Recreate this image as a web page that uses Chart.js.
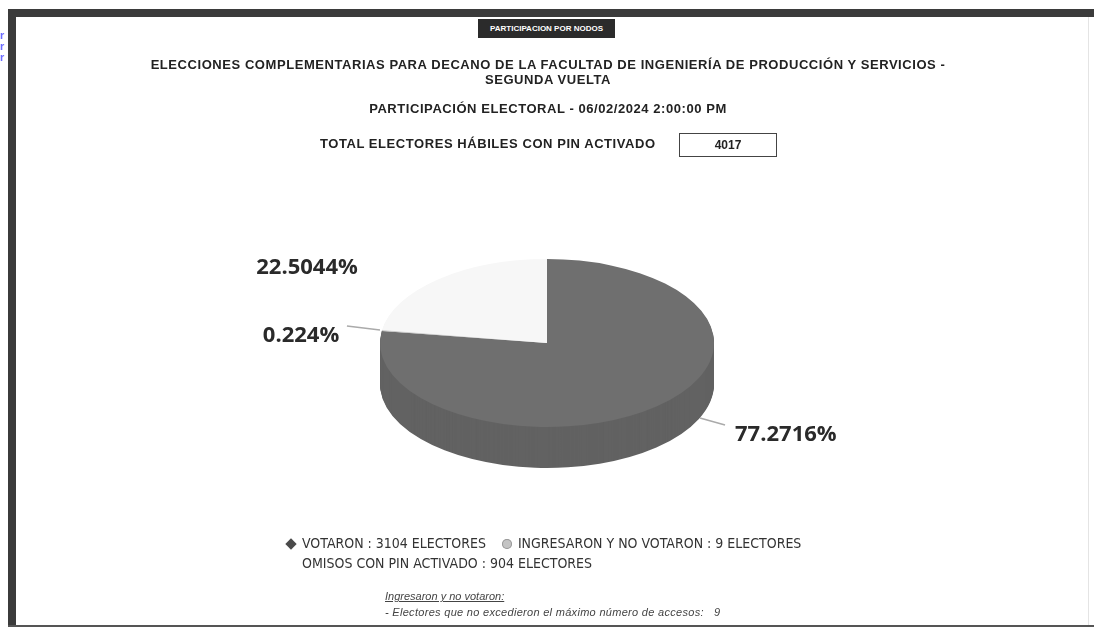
<!DOCTYPE html>
<html>
<head>
<meta charset="utf-8">
<script src="https://cdn.jsdelivr.net/npm/chart.js@4.4.1/dist/chart.umd.min.js"></script>
<style>
  html,body{margin:0;padding:0;background:#fff;}
  #wrap{position:relative;width:1094px;height:629px;overflow:hidden;background:#fff;
        font-family:"Liberation Sans",Arial,sans-serif;color:#222;}
  #c{position:absolute;left:0;top:0;}
  .t{position:absolute;white-space:nowrap;}
  .ctr{transform:translateX(-50%);}
  #frameL{position:absolute;left:8px;top:9px;width:8px;height:618px;background:#3b3b3b;}
  #frameT{position:absolute;left:8px;top:9px;width:1086px;height:8px;background:#3b3b3b;}
  #frameB{position:absolute;left:8px;top:625px;width:1086px;height:2px;background:#555;}
  #frameR{position:absolute;left:1088px;top:17px;width:1px;height:608px;background:#e4e4e4;}
  #tag{position:absolute;left:478px;top:19px;width:137px;height:19px;background:#2b2b2b;color:#fff;
       font-size:8px;font-weight:bold;line-height:19px;text-align:center;letter-spacing:0px;}
  .title{font-weight:bold;font-size:13px;letter-spacing:0.56px;}
  #numbox{position:absolute;left:679px;top:133px;width:96px;height:22px;border:1px solid #444;
          font-weight:bold;font-size:12px;line-height:22px;text-align:center;}
  #legend{position:absolute;left:286px;top:534px;font-family:"Liberation Sans Narrow","DejaVu Sans Condensed",sans-serif;
          font-size:14px;color:#333;}
  .lrow{height:20px;line-height:18px;white-space:nowrap;}
  .litem{display:inline-block;margin-right:16px;}
  .mk{display:inline-block;width:10px;height:10px;margin-right:6px;vertical-align:-1px;}
  .foot{font-family:"Liberation Sans",Arial,sans-serif;font-style:italic;font-size:11px;color:#444;}
</style>
</head>
<body>
<div id="wrap">
  <canvas id="c" width="1094" height="629"></canvas>
  <div id="frameL"></div><div id="frameT"></div><div id="frameB"></div><div id="frameR"></div>
  <div class="t" style="left:0px;top:30px;color:#6b6bff;font-size:11px;font-weight:bold;line-height:11px;">r<br>r<br>r</div>
  <div id="tag">PARTICIPACION POR NODOS</div>
  <div class="t ctr title" style="left:548px;top:57px;">ELECCIONES COMPLEMENTARIAS PARA DECANO DE LA FACULTAD DE INGENIERÍA DE PRODUCCIÓN Y SERVICIOS -</div>
  <div class="t ctr title" style="left:548px;top:72px;">SEGUNDA VUELTA</div>
  <div class="t ctr title" id="subtitle" style="left:548px;top:101px;"></div>
  <div class="t title" style="left:320px;top:136px;">TOTAL ELECTORES HÁBILES CON PIN ACTIVADO</div>
  <div id="numbox"></div>
  <div id="legend"></div>
  <div class="t foot" style="left:385px;top:590px;text-decoration:underline;">Ingresaron y no votaron:</div>
  <div class="t foot" id="foot2" style="left:385px;top:606px;letter-spacing:0.3px;"></div>
</div>
<script>
// ---- data ----
const categories = ['VOTARON', 'INGRESARON Y NO VOTARON', 'OMISOS CON PIN ACTIVADO'];
const electors = [3104, 9, 904];
const totalElectors = 4017;
const reportDate = '06/02/2024 2:00:00 PM';
const notExceededAccess = 9;

// ---- styles ----
const topColors  = ['#6f6f6f', '#c9c9c9', '#f7f7f7'];
const sideColors = ['#626262', '#b5b5b5', '#e6e6e6'];
const markerColors = ['#4a4a4a', '#c4c4c4', '#ffffff'];
const TILT = 0.503;     // vertical squash of the pie
const DEPTH = 41;       // thickness in px
// label anchors relative to pie centre, in units of the radius: [leaderFromX, leaderFromY, leaderToX, leaderToY, textX, textY, align]
const labelLayout = [
  [0.916, 0.449, 1.066, 0.491, 1.126, 0.551, 'left'],
  [-1.000, -0.078, -1.198, -0.102, -1.473, -0.042, 'center'],
  [null, null, null, null, -1.437, -0.449, 'center']
];

document.getElementById('subtitle').textContent = 'PARTICIPACIÓN ELECTORAL - ' + reportDate;
document.getElementById('numbox').textContent = totalElectors;
document.getElementById('foot2').innerHTML = '- Electores que no excedieron el máximo número de accesos:&nbsp;&nbsp;&nbsp;' + notExceededAccess;

const pct = v => parseFloat((v / totalElectors * 100).toFixed(4)) + '%';

// legend (HTML, built from the arrays)
(function(){
  const lg = document.getElementById('legend');
  const shapes = ['diamond', 'circle', 'none'];
  const rows = [[0, 1], [2]];
  rows.forEach(r => {
    const row = document.createElement('div'); row.className = 'lrow';
    r.forEach(i => {
      const it = document.createElement('span'); it.className = 'litem';
      const mk = document.createElement('span'); mk.className = 'mk';
      if (shapes[i] === 'diamond') { mk.style.background = markerColors[i]; mk.style.transform = 'rotate(45deg) scale(0.8)'; }
      else if (shapes[i] === 'circle') { mk.style.background = markerColors[i]; mk.style.borderRadius = '50%'; mk.style.boxShadow = 'inset 0 0 0 1px #999'; }
      else { mk.style.background = 'transparent'; }
      it.appendChild(mk);
      it.appendChild(document.createTextNode(categories[i] + ' : ' + electors[i] + ' ELECTORES'));
      row.appendChild(it);
    });
    lg.appendChild(row);
  });
})();

const pie3d = {
  id: 'pie3d',
  beforeDatasetsDraw(chart) {
    const meta = chart.getDatasetMeta(0);
    const a0 = meta.data[0];
    const cx = a0.x, cy = a0.y;
    const ctx = chart.ctx;
    for (let k = DEPTH; k >= 1; k--) {
      ctx.save();
      ctx.translate(cx, cy + k);
      ctx.scale(1, TILT);
      ctx.translate(-cx, -cy);
      meta.data.forEach((arc, i) => {
        const o = arc.options;
        const bg = o.backgroundColor, bc = o.borderColor;
        o.backgroundColor = sideColors[i]; o.borderColor = sideColors[i];
        arc.draw(ctx);
        o.backgroundColor = bg; o.borderColor = bc;
      });
      ctx.restore();
    }
    ctx.save();
    ctx.translate(cx, cy);
    ctx.scale(1, TILT);
    ctx.translate(-cx, -cy);
  },
  afterDatasetsDraw(chart) {
    const ctx = chart.ctx;
    ctx.restore();
    const meta = chart.getDatasetMeta(0);
    const a0 = meta.data[0];
    const cx = a0.x, cy = a0.y, R = a0.outerRadius;
    ctx.save();
    ctx.font = 'bold 22px "Open Sans", "DejaVu Sans", sans-serif';
    ctx.fillStyle = '#2a2a2a';
    ctx.textBaseline = 'middle';
    meta.data.forEach((arc, i) => {
      const L = labelLayout[i];
      if (L[0] !== null) {
        ctx.strokeStyle = '#aaaaaa'; ctx.lineWidth = 1.5;
        ctx.beginPath();
        ctx.moveTo(cx + L[0] * R, cy + L[1] * R);
        ctx.lineTo(cx + L[2] * R, cy + L[3] * R);
        ctx.stroke();
      }
      ctx.textAlign = L[6];
      ctx.fillText(pct(electors[i]), cx + L[4] * R, cy + L[5] * R);
    });
    ctx.restore();
  }
};

new Chart(document.getElementById('c'), {
  type: 'pie',
  data: {
    labels: categories,
    datasets: [{
      data: electors,
      backgroundColor: topColors,
      borderColor: topColors,
      borderWidth: 0,
      hoverOffset: 0,
      radius: 167
    }]
  },
  options: {
    responsive: false,
    animation: false,
    events: [],
    layout: { padding: { top: 160, bottom: 103, left: 0, right: 0 } },
    plugins: { legend: { display: false }, tooltip: { enabled: false }, title: { display: false } }
  },
  plugins: [pie3d]
});
</script>
</body>
</html>
